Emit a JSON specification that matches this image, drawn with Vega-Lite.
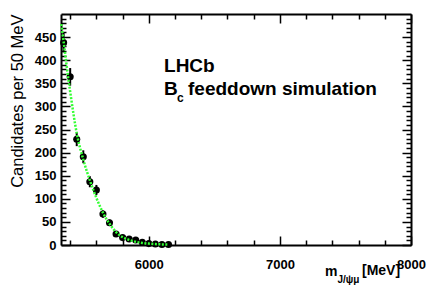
{
  "$schema": "https://vega.github.io/schema/vega-lite/v6.json",
  "width": 350,
  "height": 231,
  "autosize": {"type": "none"},
  "padding": {"left": 61, "top": 14, "right": 21, "bottom": 48},
  "background": "white",
  "config": {
    "view": {"stroke": null},
    "font": "Liberation Sans",
    "axis": {
      "domainColor": "black",
      "domainWidth": 2,
      "tickColor": "black",
      "tickWidth": 1.5,
      "grid": false,
      "labelFont": "Liberation Sans",
      "labelFontWeight": "bold",
      "labelFontSize": 13,
      "labelColor": "black",
      "labelFlush": false,
      "labelOverlap": false,
      "labelBound": false
    }
  },
  "datasets": {
    "points": [
      {"m": 5350, "n": 438, "lo": 417, "hi": 459},
      {"m": 5400, "n": 364, "lo": 345, "hi": 383},
      {"m": 5450, "n": 229, "lo": 214, "hi": 244},
      {"m": 5500, "n": 191, "lo": 177, "hi": 205},
      {"m": 5550, "n": 137, "lo": 125, "hi": 149},
      {"m": 5600, "n": 119, "lo": 108, "hi": 130},
      {"m": 5650, "n": 67, "lo": 59, "hi": 75},
      {"m": 5700, "n": 48, "lo": 41, "hi": 55},
      {"m": 5750, "n": 24, "lo": 19, "hi": 29},
      {"m": 5800, "n": 16, "lo": 12, "hi": 20},
      {"m": 5850, "n": 13, "lo": 9.4, "hi": 16.6},
      {"m": 5900, "n": 11, "lo": 7.7, "hi": 14.3},
      {"m": 5950, "n": 6, "lo": 3.6, "hi": 8.4},
      {"m": 6000, "n": 3, "lo": 1.3, "hi": 4.7},
      {"m": 6050, "n": 2, "lo": 0.6, "hi": 3.4},
      {"m": 6100, "n": 1, "lo": 0, "hi": 2},
      {"m": 6150, "n": 1, "lo": 0, "hi": 2}
    ],
    "curve": [
      {"m": 5332, "f": 478},
      {"m": 5350, "f": 440},
      {"m": 5384, "f": 364},
      {"m": 5400, "f": 332},
      {"m": 5450, "f": 242},
      {"m": 5500, "f": 185},
      {"m": 5550, "f": 140},
      {"m": 5600, "f": 102},
      {"m": 5650, "f": 70},
      {"m": 5700, "f": 46},
      {"m": 5750, "f": 28},
      {"m": 5800, "f": 17},
      {"m": 5850, "f": 11},
      {"m": 5900, "f": 7},
      {"m": 5950, "f": 4.5},
      {"m": 6000, "f": 3},
      {"m": 6050, "f": 2},
      {"m": 6100, "f": 1.2},
      {"m": 6150, "f": 0.8}
    ]
  },
  "resolve": {"axis": {"x": "independent", "y": "independent"}},
  "layer": [
    {
      "data": {"name": "points"},
      "mark": {"type": "rule", "color": "black", "strokeWidth": 2},
      "encoding": {
        "x": {
          "field": "m", "type": "quantitative",
          "scale": {"domain": [5330, 8000], "nice": false, "zero": false},
          "axis": {
            "orient": "bottom",
            "title": null,
            "values": [5400, 5600, 5800, 6000, 6200, 6400, 6600, 6800, 7000, 7200, 7400, 7600, 7800, 8000],
            "labelExpr": "datum.value % 1000 === 0 ? datum.value : ''",
            "tickSize": {"condition": {"test": "datum.value % 1000 === 0", "value": -9}, "value": -5},
            "labelPadding": 22
          }
        },
        "y": {
          "field": "lo", "type": "quantitative",
          "scale": {"domain": [0, 500], "nice": false, "zero": true},
          "axis": {
            "orient": "left",
            "title": "Candidates per 50 MeV",
            "titleFont": "Liberation Sans",
            "titleFontWeight": "normal",
            "titleFontSize": 16.5,
            "titleColor": "black",
            "titleAngle": -90,
            "titleX": -39,
            "titleY": 0,
            "titleAlign": "right",
            "titleBaseline": "alphabetic",
            "values": [0, 10, 20, 30, 40, 50, 60, 70, 80, 90, 100, 110, 120, 130, 140, 150, 160, 170, 180, 190, 200, 210, 220, 230, 240, 250, 260, 270, 280, 290, 300, 310, 320, 330, 340, 350, 360, 370, 380, 390, 400, 410, 420, 430, 440, 450, 460, 470, 480, 490],
            "labelExpr": "datum.value % 50 === 0 ? datum.value : ''",
            "tickSize": {"condition": {"test": "datum.value % 50 === 0", "value": -9}, "value": -5},
            "labelPadding": 14
          }
        },
        "y2": {"field": "hi"}
      }
    },
    {
      "data": {"name": "points"},
      "mark": {"type": "point", "filled": true, "shape": "circle", "color": "black", "size": 50, "opacity": 1},
      "encoding": {
        "x": {"field": "m", "type": "quantitative", "scale": {"domain": [5330, 8000], "nice": false, "zero": false}, "axis": null},
        "y": {"field": "n", "type": "quantitative", "scale": {"domain": [0, 500], "nice": false, "zero": true}, "axis": null}
      }
    },
    {
      "data": {"name": "curve"},
      "mark": {"type": "line", "color": "#33ff33", "strokeWidth": 2.5, "strokeDash": [2, 1.5], "interpolate": "monotone"},
      "encoding": {
        "x": {
          "field": "m", "type": "quantitative",
          "scale": {"domain": [5330, 8000], "nice": false, "zero": false},
          "axis": {
            "orient": "top",
            "title": null,
            "labels": false,
            "values": [5400, 5600, 5800, 6000, 6200, 6400, 6600, 6800, 7000, 7200, 7400, 7600, 7800, 8000],
            "tickSize": {"condition": {"test": "datum.value % 1000 === 0", "value": -9}, "value": -5}
          }
        },
        "y": {
          "field": "f", "type": "quantitative",
          "scale": {"domain": [0, 500], "nice": false, "zero": true},
          "axis": {
            "orient": "right",
            "title": null,
            "labels": false,
            "values": [0, 10, 20, 30, 40, 50, 60, 70, 80, 90, 100, 110, 120, 130, 140, 150, 160, 170, 180, 190, 200, 210, 220, 230, 240, 250, 260, 270, 280, 290, 300, 310, 320, 330, 340, 350, 360, 370, 380, 390, 400, 410, 420, 430, 440, 450, 460, 470, 480, 490],
            "tickSize": {"condition": {"test": "datum.value % 50 === 0", "value": -9}, "value": -5}
          }
        }
      }
    },
    {
      "data": {"values": [{"m": 6116, "v": 375, "t": "LHCb"}, {"m": 6116, "v": 325, "t": "B"}, {"m": 6299, "v": 325, "t": "feeddown simulation"}]},
      "mark": {"type": "text", "font": "Liberation Sans", "fontWeight": "bold", "fontSize": 19, "align": "left", "baseline": "alphabetic", "color": "black"},
      "encoding": {
        "x": {"field": "m", "type": "quantitative", "scale": {"domain": [5330, 8000], "nice": false, "zero": false}, "axis": null},
        "y": {"field": "v", "type": "quantitative", "scale": {"domain": [0, 500], "nice": false, "zero": true}, "axis": null},
        "text": {"field": "t"}
      }
    },
    {
      "data": {"values": [{"m": 6215, "v": 309, "t": "c"}]},
      "mark": {"type": "text", "font": "Liberation Sans", "fontWeight": "bold", "fontSize": 12, "align": "left", "baseline": "alphabetic", "color": "black"},
      "encoding": {
        "x": {"field": "m", "type": "quantitative", "scale": {"domain": [5330, 8000], "nice": false, "zero": false}, "axis": null},
        "y": {"field": "v", "type": "quantitative", "scale": {"domain": [0, 500], "nice": false, "zero": true}, "axis": null},
        "text": {"field": "t"}
      }
    },
    {
      "data": {"values": [{"m": 7344, "v": -66.5, "t": "m"}, {"m": 7626, "v": -65, "t": "[MeV]"}]},
      "mark": {"type": "text", "font": "Liberation Sans", "fontWeight": "bold", "fontSize": 14, "align": "left", "baseline": "alphabetic", "color": "black"},
      "encoding": {
        "x": {"field": "m", "type": "quantitative", "scale": {"domain": [5330, 8000], "nice": false, "zero": false}, "axis": null},
        "y": {"field": "v", "type": "quantitative", "scale": {"domain": [0, 500], "nice": false, "zero": true}, "axis": null},
        "text": {"field": "t"}
      }
    },
    {
      "data": {"values": [{"m": 7439, "v": -82, "t": "J/ψμ"}]},
      "mark": {"type": "text", "font": "Liberation Sans", "fontWeight": "bold", "fontSize": 10, "align": "left", "baseline": "alphabetic", "color": "black"},
      "encoding": {
        "x": {"field": "m", "type": "quantitative", "scale": {"domain": [5330, 8000], "nice": false, "zero": false}, "axis": null},
        "y": {"field": "v", "type": "quantitative", "scale": {"domain": [0, 500], "nice": false, "zero": true}, "axis": null},
        "text": {"field": "t"}
      }
    }
  ]
}
